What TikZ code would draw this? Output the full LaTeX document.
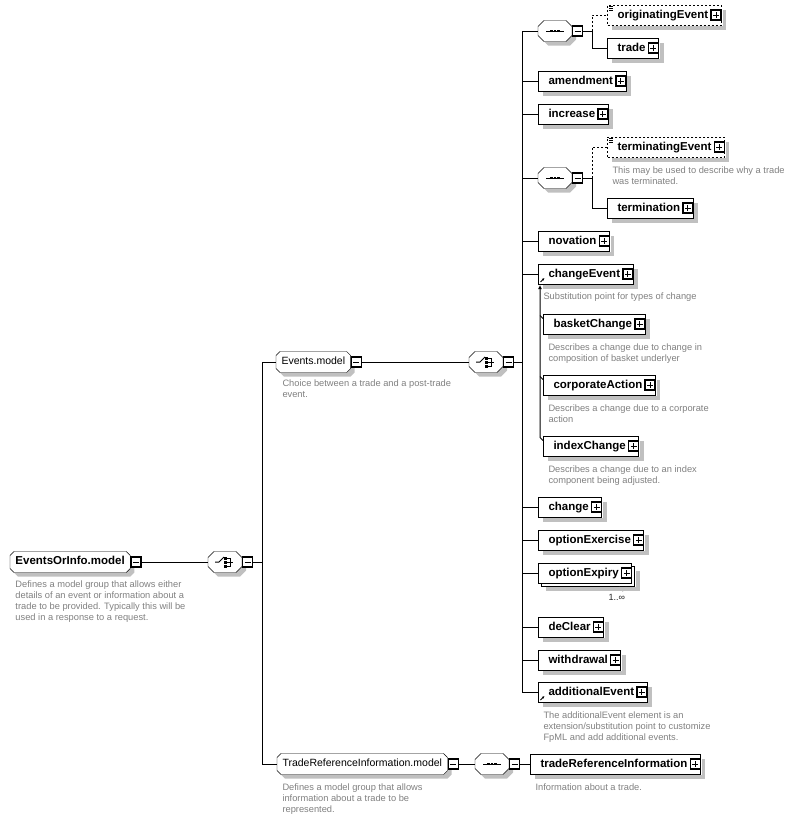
\documentclass[tikz,border=0pt]{standalone}
\usepackage{fontspec}
\setmainfont{Liberation Sans}
\usetikzlibrary{arrows.meta,calc,backgrounds}
\definecolor{descgray}{RGB}{128,128,128}
\definecolor{shadowgray}{RGB}{192,192,192}

\begin{document}
\begin{tikzpicture}[x=1pt,y=-1pt,line width=1pt,
  elem/.style={draw,fill=white,anchor=west,minimum height=20pt,inner xsep=0pt,inner ysep=0pt,
    text height=8.5pt,text depth=2.5pt,font=\fontsize{11.5}{13}\selectfont\bfseries,
    execute at begin node=\hspace*{10pt},execute at end node=\hspace*{13pt}},
  optelem/.style={elem,dash pattern=on 2pt off 2pt},
  grp/.style={anchor=west,minimum height=20pt,inner xsep=5pt,inner ysep=0pt,
    text height=8pt,text depth=2.5pt,font=\fontsize{10.5}{12}\selectfont},
  comp/.style={anchor=west,minimum width=33pt,minimum height=20pt,inner sep=0pt},
  pmbox/.style={draw,fill=white,line width=1.4pt,minimum size=10pt,inner sep=0pt},
  minusbox/.style={pmbox,anchor=west,
    path picture={\draw[line width=1pt] ([xshift=2pt]path picture bounding box.west) -- ([xshift=-2pt]path picture bounding box.east);}},
  plusbox/.style={pmbox,anchor=east,
    path picture={\draw[line width=1pt] ([xshift=2pt]path picture bounding box.west) -- ([xshift=-2pt]path picture bounding box.east)
      ([yshift=2pt]path picture bounding box.south) -- ([yshift=-2pt]path picture bounding box.north);}},
  descr/.style={anchor=north west,align=left,inner sep=0pt,text=descgray,font=\fontsize{9.3}{11}\selectfont}]

  \useasboundingbox (0,0) rectangle (800,819);

  % model groups and compositors
  \node[grp,font=\fontsize{11.5}{13}\selectfont\bfseries] (eoi) at (10,562) {EventsOrInfo.model};
  \node[minusbox] (eoi-m) at (eoi.east) {};
  \node[descr] at (15,580.5) {Defines a model group that allows either\\details of an event or information about a\\trade to be provided. Typically this will be\\used in a response to a request.};
  \node[comp] (chA) at (208,562) {};
  \node[minusbox] (chA-m) at (chA.east) {};
  \coordinate (busA) at (262,562);

  \node[grp] (evm) at (276,362) {Events.model};
  \node[minusbox] (evm-m) at (evm.east) {};
  \node[descr] at (282,379.5) {Choice between a trade and a post-trade\\event.};
  \node[comp] (chB) at (469,362) {};
  \node[minusbox] (chB-m) at (chB.east) {};
  \coordinate (busB) at (522,362);

  \node[grp] (trm) at (277,764) {TradeReferenceInformation.model};
  \node[minusbox] (trm-m) at (trm.east) {};
  \node[descr] at (282,783.5) {Defines a model group that allows\\information about a trade to be\\represented.};
  \node[comp] (sqC) at (475,764) {};
  \node[minusbox] (sqC-m) at (sqC.east) {};
  \node[elem] (tradeReferenceInformation) at (530,764) {tradeReferenceInformation};
  \node[plusbox] at (tradeReferenceInformation.east) {};
  \node[descr] at (535,783.5) {Information about a trade.};

  \draw (eoi-m.east) -- (chA.west);
  \draw (chA-m.east) -- (busA) |- (evm.west);
  \draw (busA) |- (trm.west);
  \draw (evm-m.east) -- (chB.west);
  \draw (chB-m.east) -- (busB);
  \draw (trm-m.east) -- (sqC.west);
  \draw (sqC-m.east) -- (tradeReferenceInformation.west);

  % sequences with an optional first member
  \foreach \s/\y/\first/\second/\ya/\yb in {sqA/31/originatingEvent/trade/15/48,sqB/178/terminatingEvent/termination/147/208}{
    \node[comp] (\s) at (538,\y) {};
    \node[minusbox] (\s-m) at (\s.east) {};
    \coordinate (\s-bus) at (592,\y);
    \node[optelem] (\first) at (607,\ya) {\first};
    \node[plusbox] at (\first.east) {};
    \draw[line width=0.6pt] ($(\first.north west)+(2,2)$) -- ++(4,0) ++(-4,2) -- ++(4,0) ++(-4,2) -- ++(4,0);
    \node[elem] (\second) at (607,\yb) {\second};
    \node[plusbox] at (\second.east) {};
    \draw (busB) |- (\s.west);
    \draw (\s-m.east) -- (\s-bus) |- (\second.west);
    \draw[dash pattern=on 2pt off 2pt] (\s-bus) |- (\first.west);
  }
  \node[descr] at (612,166.5) {This may be used to describe why a trade\\was terminated.};

  % plain members of the choice
  \foreach \name/\y in {amendment/81,increase/114,novation/241,change/507,optionExercise/540,deClear/627,withdrawal/660}{
    \node[elem] (\name) at (538,\y) {\name};
    \node[plusbox] at (\name.east) {};
    \draw (busB) |- (\name.west);
  }

  % substitution group
  \node[elem] (changeEvent) at (538,274) {changeEvent};
  \node[plusbox] at (changeEvent.east) {};
  \draw[line width=0.8pt,-{Latex[length=2.5pt,width=2.5pt]}] ($(changeEvent.south west)+(2.5,-2.5)$) -- ++(4,-4);
  \draw (busB) |- (changeEvent.west);
  \node[descr] at (543,292.5) {Substitution point for types of change};
  \node[elem] (basketChange) at (543,324) {basketChange};
  \node[plusbox] at (basketChange.east) {};
  \node[descr] at (548,343.5) {Describes a change due to change in\\composition of basket underlyer};
  \node[elem] (corporateAction) at (543,385) {corporateAction};
  \node[plusbox] at (corporateAction.east) {};
  \node[descr] at (548,404.5) {Describes a change due to a corporate\\action};
  \node[elem] (indexChange) at (543,446) {indexChange};
  \node[plusbox] at (indexChange.east) {};
  \node[descr] at (548,465.5) {Describes a change due to an index\\component being adjusted.};
  \coordinate (subtip) at (540,285);
  \draw[-{Latex[length=4pt,width=4pt]}] (indexChange.north west) ++(0,5) -- ++(-3,-3) -- (subtip);
  \draw (basketChange.north west) ++(0,5) -- ++(-3,-3);
  \draw (corporateAction.north west) ++(0,5) -- ++(-3,-3);

  % repeated member
  \node[elem] (optionExpiry-bk) at (541,576) {\phantom{optionExpiry}};
  \node[elem] (optionExpiry) at (538,573) {optionExpiry};
  \node[plusbox] at (optionExpiry.east) {};
  \draw (busB) |- (optionExpiry.west);
  \draw[gray,line width=0.8pt] ($(optionExpiry-bk.south east)+(-16,0.5)$) -- ++(3.5,4) -- ++(3.5,-4);
  \node[inner sep=0pt,text=black!85,font=\fontsize{9}{10}\selectfont] (optionExpiry-occ) at ($(optionExpiry-bk.south east)+(-18.5,11)$) {1..∞};

  % extension point
  \node[elem] (additionalEvent) at (538,692) {additionalEvent};
  \node[plusbox] at (additionalEvent.east) {};
  \draw[line width=0.8pt,-{Latex[length=2.5pt,width=2.5pt]}] ($(additionalEvent.south west)+(2.5,-2.5)$) -- ++(4,-4);
  \draw (busB) |- (additionalEvent.west);
  \node[descr] at (543,711.5) {The additionalEvent element is an\\extension/substitution point to customize\\FpML and add additional events.};

  % compositor icons
  \foreach \n in {sqA,sqB,sqC}{
    \draw ($(\n.center)+(-9,0)$) -- ++(18,0);
    \foreach \d in {-3.5,0,3.5} \fill ($(\n.center)+(\d,0)$) +(-1.3,-1.3) rectangle +(1.3,1.3);
  }
  \foreach \n in {chA,chB}{
    \draw ($(\n.center)+(-10,0)$) -- ++(4,0) -- ++(5,-5);
    \foreach \d in {-4,0,4} \fill ($(\n.center)+(0.5,\d)$) +(-1.5,-1.5) rectangle +(1.5,1.5);
    \draw[line width=0.8pt] ($(\n.center)+(2,-4)$) -- ++(3,0) -- ++(0,8) -- ++(-3,0) ($(\n.center)+(2,0)$) -- ++(6,0);
  }

  % element shadows, right and below each box
  \foreach \n in {originatingEvent,trade,amendment,increase,terminatingEvent,termination,novation,changeEvent,basketChange,corporateAction,indexChange,change,optionExercise,optionExpiry-bk,deClear,withdrawal,additionalEvent,tradeReferenceInformation}{
    \fill[shadowgray] ($(\n.north east)+(0.8,5)$) rectangle ($(\n.south east)+(4.5,4.5)$);
    \fill[shadowgray] ($(\n.south west)+(5,0.6)$) rectangle ($(\n.south east)+(4.5,4.5)$);
  }

  % octagon outlines behind the group nodes
  \begin{scope}[on background layer]
    \foreach \n/\c in {eoi/4,evm/4,trm/4,chA/6,chB/6,sqA/6,sqB/6,sqC/6}{
      \fill[shadowgray] ($(\n.north west)+(\c+4,4)$) -- ($(\n.north east)+(-\c+4,4)$) -- ($(\n.north east)+(4,\c+4)$)
        -- ($(\n.south east)+(4,-\c+4)$) -- ($(\n.south east)+(-\c+4,4)$) -- ($(\n.south west)+(\c+4,4)$)
        -- ($(\n.south west)+(4,-\c+4)$) -- ($(\n.north west)+(4,\c+4)$) -- cycle;
      \draw[fill=white] ($(\n.north west)+(\c,0)$) -- ($(\n.north east)+(-\c,0)$) -- ($(\n.north east)+(0,\c)$)
        -- ($(\n.south east)+(0,-\c)$) -- ($(\n.south east)+(-\c,0)$) -- ($(\n.south west)+(\c,0)$)
        -- ($(\n.south west)+(0,-\c)$) -- ($(\n.north west)+(0,\c)$) -- cycle;
    }
  \end{scope}
\end{tikzpicture}
\end{document}
